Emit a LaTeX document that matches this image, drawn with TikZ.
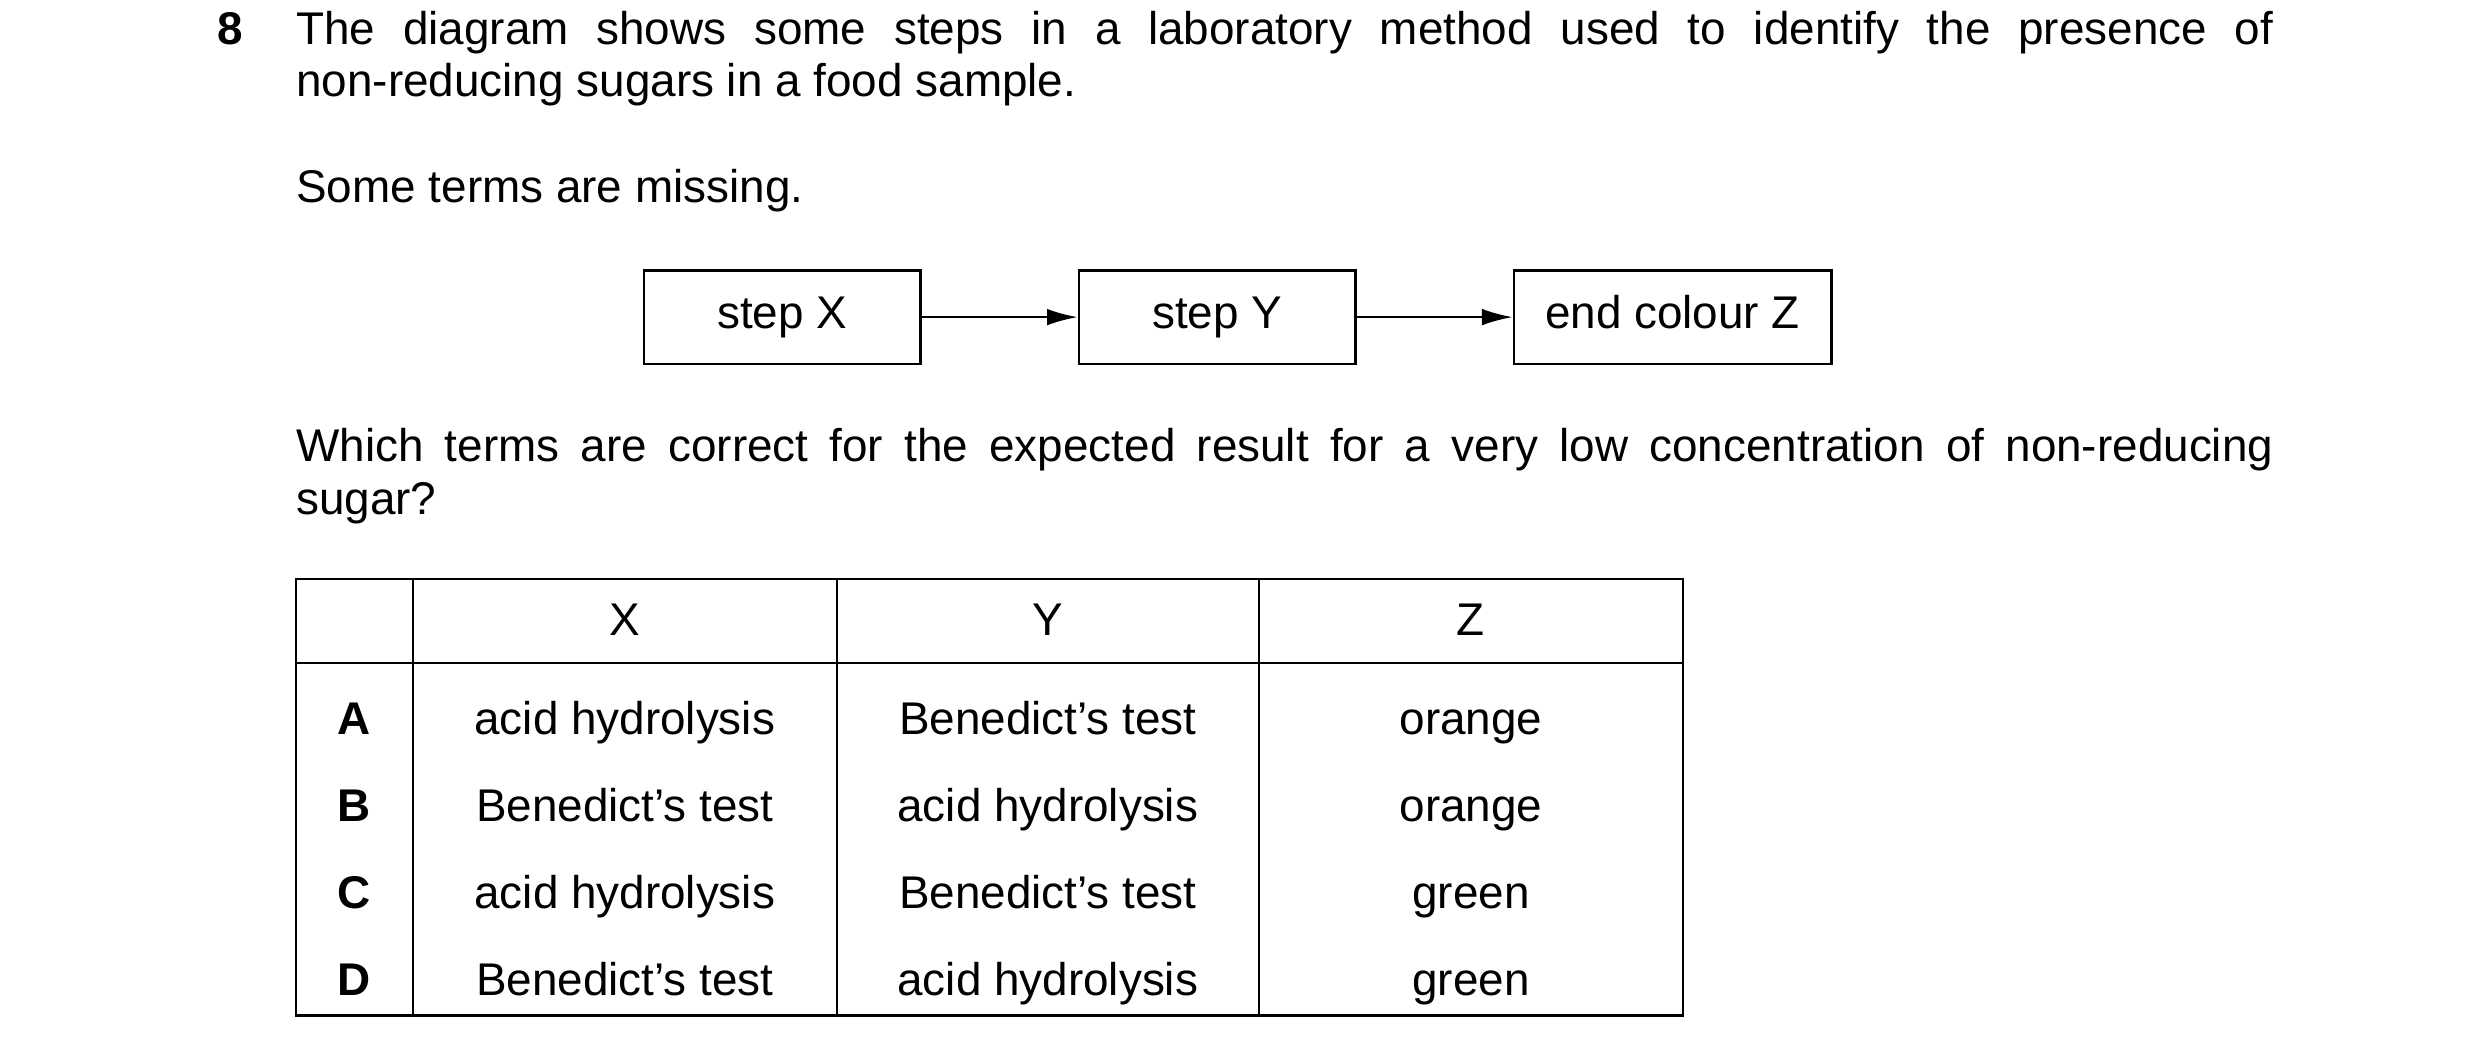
\documentclass[tikz,border=0pt]{standalone}
\usepackage{fontspec}
\setmainfont{Liberation Sans}
\usetikzlibrary{arrows.meta}
\begin{document}
\begin{tikzpicture}[x=0.02cm, y=-0.02cm, font=\fontsize{16.5}{18.8}\selectfont,
    stepbox/.style={draw, thick, minimum height=59*0.02cm, inner sep=0pt, text height=12pt, text depth=3.5pt},
    flow/.style={thick, -{Latex[length=11pt, width=6pt]}},
    cell/.style={inner sep=0pt}]
  \useasboundingbox (0,0) rectangle (1568,668);
  % question text
  \node[anchor=base west, font=\fontsize{16.5}{18.8}\selectfont\bfseries] (qnum) at (131,28) {8};
  \node[anchor=base west, text width=1250*0.02cm, align=justify, inner sep=0pt] (intro) at (187,28)
    {The diagram shows some steps in a laboratory method used to identify the presence of\linebreak non-reducing sugars in a food sample.};
  \node[anchor=base west, inner sep=0pt] (missing) at (187,128) {Some terms are missing.};
  % flow boxes
  \node[stepbox, minimum width=175*0.02cm] (stepX) at (494.5,200.5) {step X};
  \node[stepbox, minimum width=175*0.02cm] (stepY) at (769.5,200.5) {step Y};
  \node[stepbox, minimum width=201*0.02cm] (endZ) at (1057.5,200.5) {end colour Z};
  \draw[flow] (stepX) -- (stepY);
  \draw[flow] (stepY) -- (endZ);
  \node[anchor=base west, text width=1250*0.02cm, align=justify, inner sep=0pt] (which) at (187,292)
    {Which terms are correct for the expected result for a very low concentration of non-reducing\linebreak sugar?};
  % table
  \draw[thick] (187,366) rectangle (1064,642);
  \draw[thick] (187,419) -- (1064,419);
  \foreach \xc in {261,529,796} \draw[thick] (\xc,366) -- (\xc,642);
  \node[cell] (hX) at (395,395) {\strut X};
  \node[cell] (hY) at (662.5,395) {\strut Y};
  \node[cell] (hZ) at (930,395) {\strut Z};
  \foreach \lab/\a/\b/\c [count=\i] in {A/acid hydrolysis/Benedict’s test/orange,
      B/Benedict’s test/acid hydrolysis/orange,
      C/acid hydrolysis/Benedict’s test/green,
      D/Benedict’s test/acid hydrolysis/green} {
    \pgfmathsetmacro{\yr}{403+55*\i}
    \node[cell, font=\fontsize{16.5}{18.8}\selectfont\bfseries] (opt\lab) at (224,\yr) {\strut\lab};
    \node[cell] (x\lab) at (395,\yr) {\strut\a};
    \node[cell] (y\lab) at (662.5,\yr) {\strut\b};
    \node[cell] (z\lab) at (930,\yr) {\strut\c};
  }
\end{tikzpicture}
\end{document}
